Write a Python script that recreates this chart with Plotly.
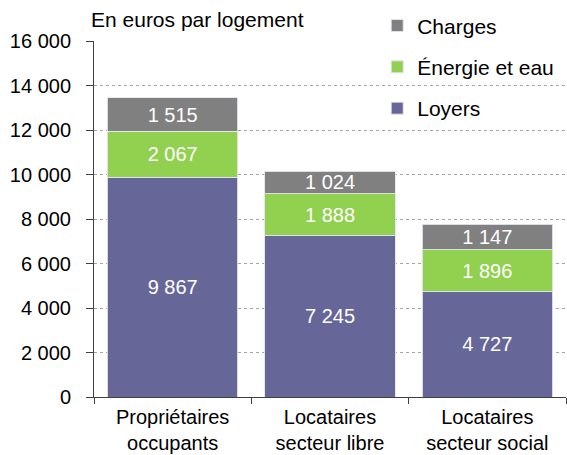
import plotly.graph_objects as go

categories = ["Propriétaires<br>occupants", "Locataires<br>secteur libre", "Locataires<br>secteur social"]
loyers = [9867, 7245, 4727]
energie = [2067, 1888, 1896]
charges = [1515, 1024, 1147]
series_names = ["Loyers", "Énergie et eau", "Charges"]
legend_ranks = [3, 2, 1]
colors = ["#666699", "#92D050", "#808080"]
y_ticks = [0, 2000, 4000, 6000, 8000, 10000, 12000, 14000, 16000]

FONT = "Liberation Sans, Arial, sans-serif"

fig = go.Figure()
for name, vals, col, rk in zip(series_names, [loyers, energie, charges], colors, legend_ranks):
    fig.add_trace(go.Bar(
        x=categories, y=vals, name=name, legendgroup=name, legendrank=rk,
        marker=dict(color=col, line=dict(color="rgba(230,230,240,0.9)", width=1)),
        text=[f"{v:,}".replace(",", " ") for v in vals],
        textposition="inside", insidetextanchor="middle", constraintext="none",
        textangle=0,
        textfont=dict(color="white", size=20, family=FONT),
        hoverinfo="skip",
    ))

fig.update_layout(
    barmode="stack",
    bargap=0.17,
    width=567, height=455,
    margin=dict(l=94, r=1, t=41, b=58, autoexpand=False),
    paper_bgcolor="white", plot_bgcolor="white",
    font=dict(family=FONT, size=20, color="black"),
    separators=", ",
    showlegend=True,
    legend=dict(
        x=0.6, y=1.1, xanchor="left", yanchor="top",
        traceorder="grouped", tracegroupgap=11,
        bgcolor="rgba(0,0,0,0)", font=dict(size=21, family=FONT),
        itemwidth=30,
    ),
)
fig.update_xaxes(
    type="category", range=[-0.5, 2.5], automargin=False,
    showline=True, linecolor="#404040", linewidth=1,
    ticks="outside", tickson="boundaries", ticklen=6, tickcolor="#404040",
    showgrid=False, tickfont=dict(size=20, family=FONT),
    ticklabelstandoff=2,
)
fig.update_yaxes(
    range=[0, 16000], tickvals=y_ticks, tickformat=",d", automargin=False,
    showline=True, linecolor="#404040", linewidth=1,
    ticks="outside", ticklen=7, tickcolor="#404040",
    showgrid=True, gridcolor="#a6a6a6", griddash="dot", gridwidth=1,
    zeroline=False, tickfont=dict(size=20, family=FONT),
    ticklabelstandoff=11,
)
fig.add_annotation(
    text="En euros par logement", xref="paper", yref="paper",
    x=-0.01, y=1.06, xanchor="left", yanchor="middle", showarrow=False,
    font=dict(size=21, family=FONT, color="black"),
)
fig.write_html("out.html", config={"displayModeBar": False},
               post_script="document.body.style.margin='0';")
